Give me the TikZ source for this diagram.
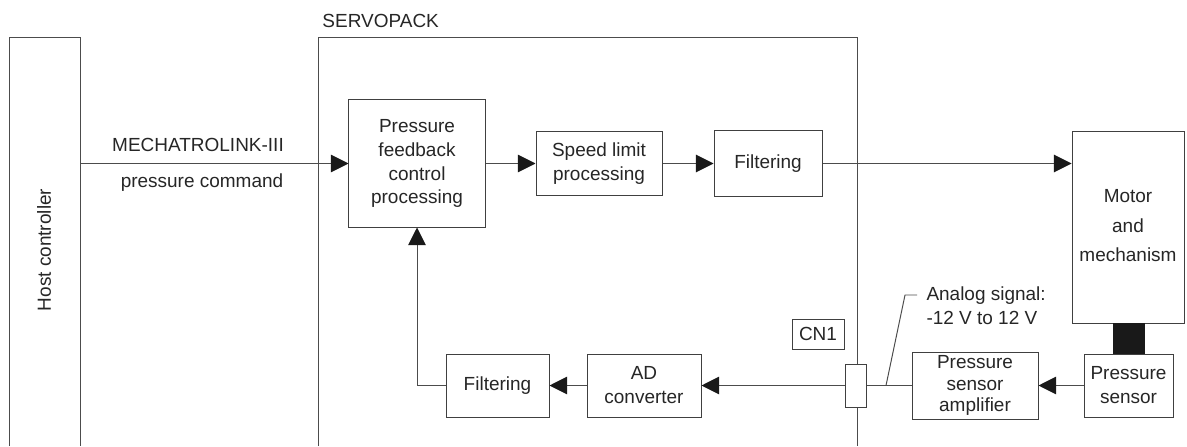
\documentclass[tikz,border=0pt]{standalone}
\usepackage{fontspec}
\setmainfont{Liberation Sans}
\usetikzlibrary{arrows.meta}
\begin{document}
\begin{tikzpicture}[x=0.025cm, y=-0.025cm, line width=0.7pt, color=black!70, >={Triangle[length=12.5pt,width=12.5pt,color=black!90]},
  block node/.style={rectangle,draw=black!75,fill=white,align=center,inner sep=1pt},
  plain node/.style={inner sep=0pt,align=center}]
\useasboundingbox (0,0) rectangle (1187,446);
% frames, open at the bottom
\draw (9,446) -- (9,37) -- (80,37) -- (80,446);
\draw (318,446) -- (318,37) -- (857,37) -- (857,446);
\begin{scope}[every node/.style={font=\fontsize{13.5}{17}\selectfont, text=black!85}]
\node [plain node, rotate=90] (hosttxt) at (44,250) {Host controller};
\node [plain node, anchor=west] (servotxt) at (322,21) {SERVOPACK};
\node [block node, minimum width=3.4cm, minimum height=3.175cm] (fb) at (417,163.5) {Pressure\\feedback\\control\\processing};
\node [block node, minimum width=3.15cm, minimum height=1.575cm] (speed) at (599,163.5) {Speed limit\\processing};
\node [block node, minimum width=2.7cm, minimum height=1.625cm] (filt1) at (768,163.5) {Filtering};
\node [block node, minimum width=2.8cm, minimum height=4.775cm] (motor) at (1128,227.5) {};
\node [plain node] (motortxt) at (1128,226) {Motor\\[4pt]and\\[4pt]mechanism};
\node [rectangle, fill=black!90, minimum width=0.8cm, minimum height=0.8cm, inner sep=0pt] (shaft) at (1129,339) {};
\node [block node, minimum width=2.225cm, minimum height=1.575cm] (psens) at (1128.5,385.5) {Pressure\\sensor};
\node [block node, minimum width=3.15cm, minimum height=1.675cm, font=\fontsize{13.5}{15.5}\selectfont] (amp) at (975,385.5) {Pressure\\sensor\\amplifier};
\node [block node, minimum width=0.525cm, minimum height=1.075cm] (conn) at (856,385.5) {};
\node [block node, minimum width=1.3cm, minimum height=0.75cm] (cn1) at (818,334) {CN1};
\node [block node, minimum width=2.85cm, minimum height=1.575cm] (ad) at (644,385.5) {AD\\converter};
\node [block node, minimum width=2.575cm, minimum height=1.575cm] (filt2) at (497.5,385.5) {Filtering};
\node [plain node] (mltxt) at (198,145) {MECHATROLINK-III};
\node [plain node] (cmdtxt) at (202,183) {pressure command};
\node [plain node, align=left, anchor=west] (analogtxt) at (926,306) {Analog signal:\\-12 V to 12 V};
\end{scope}
\coordinate (host) at (80,163.5);
\coordinate (tap) at (886,385.5);
\coordinate (kink) at (905,295);
\coordinate (tag) at (917,295);
\path [->]
	(host) edge (fb)
	(fb) edge (speed)
	(speed) edge (filt1)
	(filt1.east) edge (filt1.east -| motor.west)
	(psens) edge (amp)
	(conn) edge (ad)
	(ad) edge (filt2)
	;
\draw (conn) -- (amp);
\draw [->] (filt2.west) -| (fb.south);
\draw (tap) -- (kink) -- (tag);
\end{tikzpicture}
\end{document}
